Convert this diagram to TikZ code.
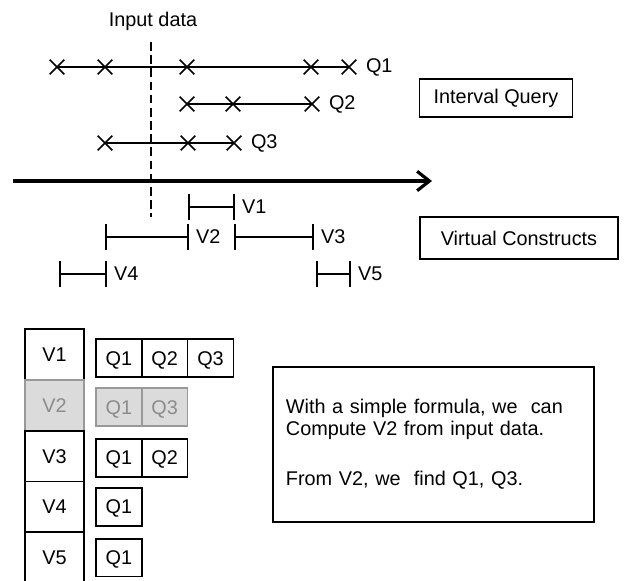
\documentclass[tikz,border=0pt]{standalone}
\usepackage{fontspec}
\setmainfont{Liberation Sans}
\usetikzlibrary{arrows.meta, positioning, shapes.misc}

\begin{document}
\begin{tikzpicture}[
  x=0.02cm, y=-0.02cm,
  every node/.style={font=\fontsize{11.3}{12.5}\selectfont},
  xmark/.style={cross out, draw, line width=0.9pt, minimum size=8.3pt,
                inner sep=0pt, outer sep=0pt},
  qline/.style={line width=0.9pt},
  axis/.style={-{Straight Barb[length=7pt, width=11pt]}, line width=1.8pt},
  cut/.style={line width=1.3pt, dash pattern=on 5pt off 2.5pt},
  span/.style={{Bar[width=15pt]}-{Bar[width=15pt]}, line width=0.9pt},
  labbox/.style={draw, line width=1pt, minimum height=22pt},
  vcell/.style={draw, line width=1pt, minimum width=33.5pt,
                minimum height=28.9pt, inner sep=0pt, outer sep=0pt,
                text height=8pt, text depth=0pt},
  qcell/.style={draw, line width=1pt, minimum width=26.1pt,
                minimum height=21.5pt, inner sep=0pt, outer sep=0pt,
                text height=8pt, text depth=0pt},
  dim/.style={fill=black!14, draw=black!40, text=black!45}
]
  \useasboundingbox (0,0) rectangle (626,581);

  %% queries on the time line
  \node[xmark] (q1a) at (57,67)  {};
  \node[xmark] (q1b) at (105,67) {};
  \node[xmark] (q1c) at (187,67) {};
  \node[xmark] (q1d) at (311,67) {};
  \node[xmark] (q1e) at (349,67) {};
  \node[right=2pt of q1e] (q1lab) {Q1};
  \draw[qline] (q1a.center) -- (q1e.center);

  \node[xmark] (q2a) at (187,104) {};
  \node[xmark] (q2b) at (233,104) {};
  \node[xmark] (q2c) at (312,104) {};
  \node[right=2pt of q2c] (q2lab) {Q2};
  \draw[qline] (q2a.center) -- (q2c.center);

  \node[xmark] (q3a) at (105,143) {};
  \node[xmark] (q3b) at (188,143) {};
  \node[xmark] (q3c) at (234,143) {};
  \node[right=2pt of q3c] (q3lab) {Q3};
  \draw[qline] (q3a.center) -- (q3c.center);

  %% time axis and input cut
  \coordinate (tstart) at (13,181);
  \coordinate (tend)   at (432,181);
  \draw[axis] (tstart) -- (tend);

  \node (input) at (153,21) {Input data};
  \coordinate (dtop) at (151,42);
  \coordinate (dbot) at (151,217);
  \draw[cut] (dtop) -- (dbot);

  %% virtual constructs
  \coordinate (v1s) at (188,207); \coordinate (v1e) at (235,207);
  \coordinate (v2s) at (105,237); \coordinate (v2e) at (189,237);
  \coordinate (v3s) at (234,237); \coordinate (v3e) at (314,237);
  \coordinate (v4s) at (59,274);  \coordinate (v4e) at (107,274);
  \coordinate (v5s) at (316,274); \coordinate (v5e) at (351,274);
  \foreach \v in {1,...,5} {
    \draw[span] (v\v s) -- (v\v e);
    \node[right=0.5pt of v\v e] (v\v lab) {V\v};
  }

  %% legend boxes
  \node[labbox, minimum width=87pt] (iq) at (496,98)  {Interval Query};
  \node[labbox, minimum width=113pt, minimum height=24pt] (vc) at (519,238) {Virtual Constructs};

  %% index table
  \node[vcell]                    (c1) at (54.5,354.5) {V1};
  \node[vcell, dim, below=0pt of c1] (c2) {V2};
  \node[vcell, below=0pt of c2]   (c3) {V3};
  \node[vcell, below=0pt of c3]   (c4) {V4};
  \node[vcell, below=0pt of c4]   (c5) {V5};

  \node[qcell, right=6.8pt of c1, yshift=-2pt] (c1a) {Q1};
  \node[qcell, right=0pt of c1a]  (c1b) {Q2};
  \node[qcell, right=0pt of c1b]  (c1c) {Q3};

  \node[qcell, dim, right=6.8pt of c2, yshift=-1pt] (c2a) {Q1};
  \node[qcell, dim, right=0pt of c2a] (c2b) {Q3};

  \node[qcell, right=6.8pt of c3, yshift=-1pt] (c3a) {Q1};
  \node[qcell, right=0pt of c3a]  (c3b) {Q2};

  \node[qcell, right=6.8pt of c4] (c4a) {Q1};
  \node[qcell, right=6.8pt of c5] (c5a) {Q1};

  %% note
  \node[draw, line width=1pt, minimum width=183pt, minimum height=88pt,
        text width=168pt, align=left] (note) at (433.5,444.5)
    {With a simple formula, we\ \ can\\Compute V2 from input data.\\[16pt]From V2, we\ \ find Q1, Q3.};
\end{tikzpicture}
\end{document}
